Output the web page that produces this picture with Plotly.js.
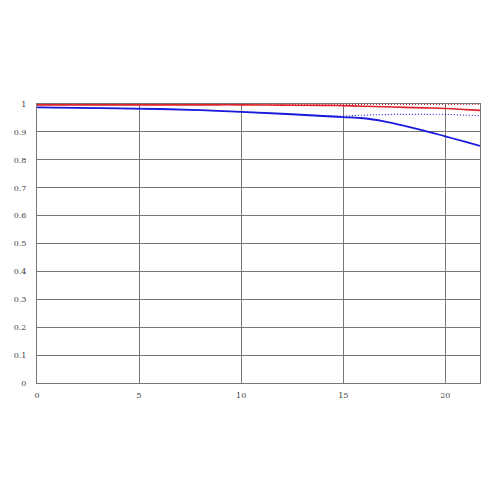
<!DOCTYPE html>
<html><head><meta charset="utf-8">
<script src="https://cdn.plot.ly/plotly-3.0.1.min.js"></script>
<style>html,body{margin:0;padding:0;background:#fff}#c{width:500px;height:500px}</style>
</head><body><div id="c"></div>
<script>
const imageHeight = [0, 2, 4, 6, 8, 10, 12, 14, 15, 16, 17, 18, 19, 20, 21, 21.7];
const redSolid =   [0.997, 0.997, 0.997, 0.997, 0.997, 0.997, 0.996, 0.995, 0.994, 0.992, 0.990, 0.988, 0.986, 0.984, 0.980, 0.977];
const redDotted =  [0.999, 0.999, 0.999, 0.999, 0.999, 0.999, 0.999, 0.999, 0.999, 0.999, 0.999, 0.999, 0.999, 0.999, 0.999, 0.999];
const blueSolid =  [0.988, 0.986, 0.984, 0.982, 0.978, 0.972, 0.965, 0.957, 0.953, 0.949, 0.938, 0.922, 0.904, 0.884, 0.864, 0.850];
const blueDotted = [0.988, 0.986, 0.984, 0.982, 0.978, 0.972, 0.965, 0.958, 0.957, 0.960, 0.962, 0.963, 0.963, 0.963, 0.960, 0.958];
const xTicks = [0, 5, 10, 15, 20];
const yTicks = [0, 0.1, 0.2, 0.3, 0.4, 0.5, 0.6, 0.7, 0.8, 0.9, 1];
const yTickText = ['0','0.1','0.2','0.3','0.4','0.5','0.6','0.7','0.8','0.9','1'];

const traces = [
  {x: imageHeight, y: blueDotted, mode: 'lines', line: {color: '#2a2ad0', width: 1.2, dash: '1px,2px', shape: 'spline'}},
  {x: imageHeight, y: blueSolid, mode: 'lines', line: {color: '#1a1adc', width: 1.8, shape: 'spline'}},
  {x: imageHeight, y: redDotted, mode: 'lines', line: {color: '#e0202a', width: 1.2, dash: '1px,2px', shape: 'spline'}},
  {x: imageHeight, y: redSolid, mode: 'lines', line: {color: '#e0202a', width: 1.6, shape: 'spline'}}
];
const layout = {
  width: 500, height: 500,
  margin: {l: 37, r: 20, t: 104, b: 117},
  showlegend: false,
  paper_bgcolor: '#fff', plot_bgcolor: '#fff',
  font: {family: 'DejaVu Serif, serif', size: 8, color: '#444'},
  xaxis: {range: [0, 21.7], tickvals: xTicks, ticktext: xTicks.map(String), showgrid: true,
    gridcolor: '#777', gridwidth: 1, zeroline: false, showline: true, linecolor: '#777', mirror: true,
    ticks: '', ticklen: 0, ticklabelstandoff: 4, fixedrange: true},
  yaxis: {range: [0, 1.0], tickvals: yTicks, ticktext: yTickText, showgrid: true,
    gridcolor: '#777', gridwidth: 1, zeroline: false, showline: true, linecolor: '#777', mirror: true,
    ticks: '', ticklen: 0, ticklabelstandoff: 8, fixedrange: true},
};
Plotly.newPlot('c', traces, layout, {staticPlot: true, displayModeBar: false});
</script></body></html>
